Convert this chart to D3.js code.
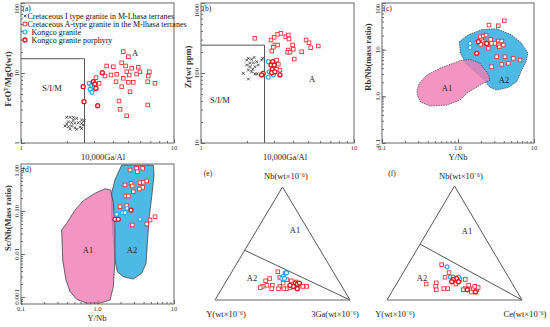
<!DOCTYPE html>
<html>
<head>
<meta charset="utf-8">
<script src="https://cdn.jsdelivr.net/npm/d3@7"></script>
<style>
body { margin: 0; background: #fff; }
svg { font-family: "Liberation Serif", "Times New Roman", serif; }
</style>
</head>
<body>
<svg id="chart" width="550" height="327"></svg>
<script>
// ---- (a) FeOT/MgO vs 10000Ga/Al ----
const aIType = [[1.99,2.33],[2.09,2.33],[2.20,2.33],[2.31,2.25],[2.49,2.13],[2.59,2.08],[2.04,2.01],[2.14,1.95],[2.25,1.91],[2.37,1.95],[2.49,1.91],[1.94,1.75],[2.04,1.71],[2.14,1.75],[2.25,1.65],[2.43,1.68],[2.55,1.81],[2.09,1.57],[2.31,1.57],[2.49,1.62],[1.99,1.87],[2.20,2.13]];
const aAType = [[4.66,20.2],[5.03,17.1],[3.63,12.6],[4.01,12.3],[4.55,14.0],[4.83,12.6],[5.29,11.7],[5.84,12.1],[4.91,10.4],[5.10,9.36],[5.70,9.67],[5.99,10.4],[6.90,10.4],[6.79,9.06],[3.54,9.06],[3.87,9.36],[4.22,9.58],[4.66,8.40],[4.18,7.51],[5.03,7.36],[5.42,7.36],[6.73,7.51],[7.51,7.12],[4.55,6.37],[5.16,5.41],[3.09,8.57],[3.24,7.12],[3.08,6.04],[4.37,3.98],[4.44,3.03],[4.91,2.45],[6.73,3.49]];
const aKongco = [[2.79,7.12],[2.90,6.59],[2.99,6.96],[2.83,5.85],[2.91,5.30],[3.01,6.25]];
const aPorphyry = [[2.55,6.37],[2.58,3.89],[3.17,3.41],[2.97,7.51],[3.04,6.96],[3.09,6.04],[3.40,10.1]];
const aSIM = [2.6, 16];

// ---- (b) Zr vs 10000Ga/Al ----
const bIType = [[1.99,153],[2.04,162],[2.14,157],[2.22,167],[2.09,138],[2.20,140],[2.31,145],[2.49,153],[2.53,162],[1.99,130],[2.09,123],[2.25,123],[2.37,130],[1.89,99],[2.04,110],[2.14,104],[2.25,97],[2.33,97],[2.18,113],[2.04,82]];
const bAType = [[2.25,313],[2.87,296],[3.01,324],[3.17,357],[3.33,369],[3.58,330],[3.72,349],[3.76,306],[4.86,296],[5.08,271],[5.84,243],[5.21,230],[3.97,251],[3.04,251],[3.17,251],[2.97,233],[2.90,206],[3.72,213],[4.01,218],[3.69,198],[3.82,198],[4.55,201],[4.07,158],[3.12,153],[3.20,134],[3.12,113],[3.28,110]];
const bKongco = [[2.75,145],[2.79,104],[2.75,87],[2.97,94]];
const bPorphyry = [[2.94,145],[2.87,130],[3.01,130],[2.92,113],[2.90,101],[2.55,99],[2.49,94],[3.28,94],[3.04,104]];
const bSIM = [2.6, 250];

// ---- (c) Rb/Nb vs Y/Nb ----
const cA1 = [[0.29,1.36],[0.31,1.90],[0.39,2.86],[0.58,4.0],[1.06,5.8],[1.44,6.2],[1.95,5.09],[2.50,3.0],[2.64,2.24],[1.95,1.74],[1.30,1.16],[1.06,0.83],[0.71,0.65],[0.43,0.62],[0.32,0.76],[0.29,1.07]];
const cA2 = [[1.04,14.7],[1.35,20.5],[2.05,27],[3.23,28],[5.0,21],[6.8,14],[8.3,8.5],[7.85,5.5],[6.89,3.66],[5.92,2.06],[4.59,1.55],[3.23,1.36],[2.64,1.55],[2.20,2.23],[1.67,3.37],[1.27,5.09],[1.08,8.3]];
const cAType = [[2.56,33.6],[3.39,32.5],[4.07,41.6],[1.95,18.9],[2.15,19.6],[2.34,20.5],[2.05,16.1],[2.15,14.8],[2.27,13.6],[1.99,13.0],[2.69,16.6],[2.77,13.6],[3.07,13.6],[3.39,15.3],[3.57,13.6],[3.76,15.3],[3.39,12.6],[3.94,12.6],[3.49,11.5],[2.50,10.7],[3.23,7.05],[4.15,7.05],[5.34,6.51],[3.76,4.84],[4.59,5.09],[2.77,4.31],[6.55,5.99]];
const cKongco = [[1.44,13.6],[1.44,11.0],[1.76,14.1]];
const cPorphyry = [[1.76,8.33],[1.85,14.8],[2.39,13.6]];

// ---- (d) Sc/Nb vs Y/Nb ----
const dA1 = [[0.340,0.0362],[0.396,0.0517],[0.508,0.105],[0.653,0.174],[0.927,0.258],[1.25,0.330],[1.49,0.308],[1.61,0.151],[1.69,0.0432],[1.69,0.00725],[1.61,0.00174],[1.46,0.00085],[1.08,0.00072],[0.722,0.00072],[0.535,0.00088],[0.437,0.00133],[0.387,0.00249],[0.351,0.00725]];
const dA2 = [[2.07,1.17],[5.36,1.17],[5.48,0.687],[5.11,0.215],[4.75,0.0738],[4.48,0.0177],[4.31,0.00607],[3.78,0.00356],[2.94,0.00262],[2.17,0.00297],[1.82,0.00388],[1.69,0.00725],[1.61,0.0253],[1.53,0.0884],[1.53,0.258],[1.69,0.526]];
const dAType = [[2.66,0.898],[3.25,0.984],[3.90,0.984],[3.31,0.820],[2.29,0.403],[2.74,0.441],[2.85,0.381],[3.59,0.455],[3.97,0.465],[4.40,0.499],[3.90,0.356],[2.94,0.281],[3.52,0.325],[2.34,0.223],[2.53,0.223],[1.97,0.126],[2.41,0.133],[4.86,0.0618],[5.65,0.0737],[2.85,0.0472],[4.40,0.0499]];
const dKongco = [[1.78,0.0838],[2.13,0.0913],[2.29,0.0913],[2.43,0.116],[3.59,0.0641]];
const dPorphyry = [[1.69,0.0641],[1.87,0.0641],[2.74,0.105]];

// ---- (e) Nb - Y - 3Ga ternary, [Nb, Y, 3Ga] fractions ----
const eAType = [[0.25,0.41,0.34],[0.19,0.50,0.31],[0.17,0.54,0.29],[0.12,0.59,0.29],[0.11,0.61,0.28],[0.13,0.55,0.32],[0.13,0.51,0.36],[0.12,0.46,0.42],[0.15,0.42,0.43],[0.10,0.42,0.48],[0.11,0.39,0.50],[0.12,0.35,0.53],[0.13,0.32,0.55],[0.12,0.29,0.59],[0.12,0.26,0.62],[0.10,0.53,0.37],[0.10,0.48,0.42],[0.10,0.44,0.46],[0.16,0.32,0.52],[0.17,0.35,0.48],[0.18,0.38,0.44],[0.20,0.42,0.38]];
const eKongco = [[0.24,0.36,0.40],[0.24,0.35,0.41],[0.21,0.39,0.40],[0.19,0.41,0.40],[0.19,0.39,0.42]];
const ePorphyry = [[0.15,0.33,0.52],[0.14,0.32,0.54],[0.15,0.30,0.55],[0.12,0.36,0.52],[0.10,0.34,0.56],[0.13,0.38,0.49]];
const eSplit = 0.44;

// ---- (f) Nb - Y - Ce ternary, [Nb, Y, Ce] fractions ----
const fAType = [[0.31,0.44,0.25],[0.24,0.42,0.34],[0.20,0.47,0.33],[0.14,0.64,0.22],[0.15,0.56,0.29],[0.12,0.58,0.30],[0.09,0.59,0.32],[0.10,0.53,0.37],[0.10,0.50,0.40],[0.18,0.41,0.41],[0.18,0.37,0.45],[0.18,0.33,0.49],[0.14,0.42,0.44],[0.13,0.33,0.54],[0.10,0.37,0.53],[0.09,0.34,0.57],[0.10,0.31,0.59],[0.09,0.29,0.62],[0.12,0.29,0.59],[0.07,0.34,0.59],[0.11,0.27,0.62],[0.09,0.39,0.52]];
const fKongco = [[0.29,0.41,0.30],[0.20,0.43,0.37],[0.20,0.41,0.39],[0.20,0.37,0.43]];
const fPorphyry = [[0.19,0.39,0.42],[0.18,0.42,0.40],[0.16,0.39,0.45],[0.16,0.44,0.40],[0.09,0.36,0.55],[0.07,0.31,0.62]];
const fSplit = 0.49;

const legendItems = [
  {kind: "I", text: "Cretaceous I type granite in M-Lhasa terranes"},
  {kind: "A", text: "Cretaceous A-type granite in the M-lhasa terranes"},
  {kind: "K", text: "Kongco granite"},
  {kind: "P", text: "Kongco granite porphyry"}
];

const svg = d3.select("#chart");
const red = "#f0343c", darkRed = "#e0101c", blue = "#22a6e6";

function marks(g, pts, kind, px, py) {
  const s = g.append("g").selectAll("g").data(pts).join("g")
    .attr("transform", d => `translate(${px(d)},${py(d)})`);
  if (kind === "I") {
    s.append("path").attr("d", "M-1.4,-1.4L1.4,1.4M-1.4,1.4L1.4,-1.4")
      .attr("stroke", "#333").attr("stroke-width", 0.8);
  } else if (kind === "A") {
    s.append("rect").attr("x", -1.8).attr("y", -1.8).attr("width", 3.6).attr("height", 3.6)
      .attr("fill", "#fff").attr("stroke", red).attr("stroke-width", 0.9);
  } else if (kind === "K") {
    s.append("circle").attr("r", 2).attr("fill", "#fff").attr("stroke", blue).attr("stroke-width", 1.2);
  } else {
    s.append("circle").attr("r", 2).attr("fill", "#fff").attr("stroke", darkRed).attr("stroke-width", 1.3);
  }
}

function minorTicks(dom) {
  const out = [];
  for (let e = Math.floor(Math.log10(dom[0])); e <= Math.ceil(Math.log10(dom[1])); e++) {
    for (let k = 1; k < 10; k++) {
      const v = k * Math.pow(10, e);
      if (v >= dom[0] * 0.999 && v <= dom[1] * 1.001) out.push(v);
    }
  }
  return out;
}

function logPanel(p) {
  const g = svg.append("g");
  const x = d3.scaleLog().domain(p.xDom).range([p.left, p.right]);
  const y = d3.scaleLog().domain(p.yDom).range([p.bottom, p.top]);
  const clipId = "clip" + p.name;
  g.append("clipPath").attr("id", clipId).append("rect")
    .attr("x", p.left).attr("y", p.top).attr("width", p.right - p.left).attr("height", p.bottom - p.top);

  // ticks (inward)
  const styleAxis = a => { a.select(".domain").remove(); a.selectAll("line").attr("stroke", "#666"); };
  g.append("g").attr("transform", `translate(0,${p.bottom})`)
    .call(d3.axisBottom(x).tickValues(minorTicks(p.xDom)).tickSize(-2).tickFormat("")).call(styleAxis);
  g.append("g").attr("transform", `translate(0,${p.bottom})`)
    .call(d3.axisBottom(x).tickValues(p.xTicks).tickSize(-4).tickFormat("")).call(styleAxis);
  g.append("g").attr("transform", `translate(${p.left},0)`)
    .call(d3.axisLeft(y).tickValues(minorTicks(p.yDom)).tickSize(-2).tickFormat("")).call(styleAxis);
  g.append("g").attr("transform", `translate(${p.left},0)`)
    .call(d3.axisLeft(y).tickValues(p.yTicks).tickSize(-4).tickFormat("")).call(styleAxis);

  const body = g.append("g").attr("clip-path", `url(#${clipId})`);
  const line = d3.line().x(d => x(d[0])).y(d => y(d[1])).curve(d3.curveLinearClosed);
  if (p.regions) {
    p.regions.forEach(r => {
      body.append("path").attr("d", line(r.pts)).attr("fill", r.fill).attr("fill-opacity", r.op)
        .attr("stroke", "#444").attr("stroke-width", 0.8).attr("stroke-dasharray", r.dash || null);
    });
  }
  if (p.sim) {
    body.append("path")
      .attr("d", `M${x(p.xDom[0])},${y(p.sim[1])}H${x(p.sim[0])}V${y(p.yDom[0])}`)
      .attr("fill", "none").attr("stroke", "#555").attr("stroke-width", 1);
  }
  p.series.forEach(s => marks(body, s.pts, s.kind, d => x(d[0]), d => y(d[1])));

  g.append("rect").attr("x", p.left).attr("y", p.top)
    .attr("width", p.right - p.left).attr("height", p.bottom - p.top)
    .attr("fill", "none").attr("stroke", "#666").attr("stroke-width", 1);

  g.selectAll(null).data(p.xTicks).join("text")
    .attr("x", d => x(d)).attr("y", p.bottom + 6.5)
    .attr("text-anchor", "middle").attr("font-size", 6.5).attr("fill", "#333")
    .text((d, i) => p.xLabels[i]);
  // y tick labels rotated; the top one is pushed down inside the frame
  g.selectAll(null).data(p.yTicks).join("text")
    .attr("transform", d => {
      const yy = y(d) - p.top < 8 ? p.top + 0.5 : y(d);
      return `translate(${p.left - 2.5},${yy}) rotate(-90)`;
    })
    .attr("text-anchor", d => y(d) - p.top < 8 ? "end" : "middle")
    .attr("font-size", 7).attr("fill", "#333")
    .text((d, i) => p.yLabels[i]);

  g.append("text").attr("x", p.xTitlePos[0]).attr("y", p.xTitlePos[1])
    .attr("text-anchor", "middle").attr("font-size", 8.5).attr("fill", "#222").text(p.xTitle);
  const yt = g.append("text").attr("transform", `translate(${p.yTitlePos[0]},${p.yTitlePos[1]}) rotate(-90)`)
    .attr("text-anchor", "middle").attr("font-size", 8.5).attr("font-weight", "bold").attr("fill", "#333");
  p.yTitle.forEach(t => yt.append("tspan").attr("baseline-shift", t.sup ? "super" : null)
    .attr("font-size", t.sup ? 5.5 : null).text(t.s));

  g.append("text").attr("x", p.left + 1.5).attr("y", p.top + 7.5).attr("font-size", 7.5).attr("fill", "#222").text(p.tag);
  (p.notes || []).forEach(n => g.append("text").attr("x", n[0]).attr("y", n[1])
    .attr("text-anchor", "middle").attr("font-size", 8.5).attr("fill", "#222").text(n[2]));
  return g;
}

const aPanel = logPanel({
  name: "a", left: 21, right: 174, top: 3, bottom: 143,
  xDom: [1, 10], yDom: [1, 100], xTicks: [1, 10], xLabels: ["1", "10"],
  yTicks: [1, 10, 100], yLabels: ["1", "10", "100"],
  xTitle: "10,000Ga/Al", xTitlePos: [103, 159.5],
  yTitle: [{s: "FeO"}, {s: "T", sup: true}, {s: "/MgO(wt)"}], yTitlePos: [11, 79],
  tag: "(a)", sim: aSIM,
  notes: [[135, 56, "A"], [52, 91, "S/I/M"]],
  series: [{pts: aIType, kind: "I"}, {pts: aAType, kind: "A"}, {pts: aKongco, kind: "K"}, {pts: aPorphyry, kind: "P"}]
});

logPanel({
  name: "b", left: 201, right: 354, top: 3, bottom: 143,
  xDom: [1, 10], yDom: [10, 1000], xTicks: [1, 10], xLabels: ["1", "10"],
  yTicks: [10, 100, 1000], yLabels: ["10", "100", "1000"],
  xTitle: "10,000Ga/Al", xTitlePos: [285, 159.5],
  yTitle: [{s: "Zr(wt ppm)"}], yTitlePos: [191, 67],
  tag: "(b)", sim: bSIM,
  notes: [[312, 82, "A"], [220, 103, "S/I/M"]],
  series: [{pts: bIType, kind: "I"}, {pts: bAType, kind: "A"}, {pts: bKongco, kind: "K"}, {pts: bPorphyry, kind: "P"}]
});

logPanel({
  name: "c", left: 382, right: 534, top: 3, bottom: 143,
  xDom: [0.1, 10], yDom: [0.1, 100], xTicks: [0.1, 1, 10], xLabels: ["0.1", "1.0", "10"],
  yTicks: [0.1, 1, 10, 100], yLabels: ["0.1", "1.0", "10", "100"],
  xTitle: "Y/Nb", xTitlePos: [458, 159.5],
  yTitle: [{s: "Rb/Nb(mass ratio)"}], yTitlePos: [371, 57],
  tag: "(c)",
  regions: [{pts: cA2, fill: "#4fb9e6", op: 1, dash: "1.5,1"}, {pts: cA1, fill: "#f07ab4", op: 0.8, dash: "1.5,1"}],
  notes: [[447, 91, "A1"], [504, 83, "A2"]],
  series: [{pts: cAType, kind: "A"}, {pts: cKongco, kind: "K"}, {pts: cPorphyry, kind: "P"}]
});

logPanel({
  name: "d", left: 21, right: 174, top: 164, bottom: 304,
  xDom: [0.1, 10], yDom: [0.000687, 1.239], xTicks: [0.1, 1, 10], xLabels: ["0.1", "1.0", "10"],
  yTicks: [0.001, 0.01, 0.1, 1], yLabels: ["0.001", "0.01", "0.10", "1.00"],
  xTitle: "Y/Nb", xTitlePos: [97, 320.5],
  yTitle: [{s: "Sc/Nb(Mass ratio)"}], yTitlePos: [11, 218],
  tag: "(d)",
  regions: [{pts: dA2, fill: "#4fb9e6", op: 1}, {pts: dA1, fill: "#f07ab4", op: 0.8}],
  notes: [[88, 253, "A1"], [132, 253, "A2"]],
  series: [{pts: dAType, kind: "A"}, {pts: dKongco, kind: "K"}, {pts: dPorphyry, kind: "P"}]
});

// legend inside (a)
const leg = aPanel.append("g");
legendItems.forEach((it, i) => {
  const yy = 16 + i * 8;
  marks(leg, [0], it.kind, () => 25, () => yy);
  leg.append("text").attr("x", i < 2 ? 27.5 : 31.5).attr("y", yy + 2.5)
    .attr("font-size", 8).attr("fill", "#111").text(it.text);
});

function ternary(p) {
  const g = svg.append("g");
  const tx = d3.scaleLinear().domain([0, 1]).range([p.left, p.right]);
  const ty = d3.scaleLinear().domain([0, 1]).range([p.base, p.apex]);
  const X = d => tx(d[2] + d[0] / 2), Y = d => ty(d[0]);
  const line = d3.line().x(X).y(Y);
  g.append("path").attr("d", line([[0, 1, 0], [1, 0, 0], [0, 0, 1]]))
    .attr("fill", "none").attr("stroke", "#555").attr("stroke-width", 1);
  g.append("path").attr("d", line([[0, 1, 0], [0, 0, 1]]))
    .attr("fill", "none").attr("stroke", "#999").attr("stroke-width", 1.6);
  g.append("path").attr("d", line([[p.split, 1 - p.split, 0], [0, 0, 1]]))
    .attr("fill", "none").attr("stroke", "#555").attr("stroke-width", 1);
  p.series.forEach(s => marks(g, s.pts, s.kind, X, Y));
  const txt = (xx, yy, s, size) => g.append("text").attr("x", xx).attr("y", yy)
    .attr("text-anchor", "middle").attr("font-size", size).attr("fill", "#222").text(s);
  txt(p.tagPos[0], p.tagPos[1], p.tag, 7.5);
  p.labels.forEach(l => txt(l[0], l[1], l[2], 8.5));
  txt(p.a1[0], p.a1[1], "A1", 8.5);
  txt(p.a2[0], p.a2[1], "A2", 8.5);
}

ternary({
  left: 215, right: 350, base: 300, apex: 187, split: eSplit,
  tag: "(e)", tagPos: [208, 176],
  labels: [[286, 179, "Nb(wt×10⁻⁶)"], [226, 317, "Y(wt×10⁻⁶)"], [335, 317, "3Ga(wt×10⁻⁶)"]],
  a1: [295, 233], a2: [252, 281],
  series: [{pts: eAType, kind: "A"}, {pts: eKongco, kind: "K"}, {pts: ePorphyry, kind: "P"}]
});

ternary({
  left: 387, right: 522, base: 300, apex: 186, split: fSplit,
  tag: "(f)", tagPos: [392, 176],
  labels: [[461, 179, "Nb(wt×10⁻⁶)"], [395, 317, "Y(wt×10⁻⁶)"], [525, 317, "Ce(wt×10⁻⁶)"]],
  a1: [467, 234], a2: [422, 281],
  series: [{pts: fAType, kind: "A"}, {pts: fKongco, kind: "K"}, {pts: fPorphyry, kind: "P"}]
});
</script>
</body>
</html>
